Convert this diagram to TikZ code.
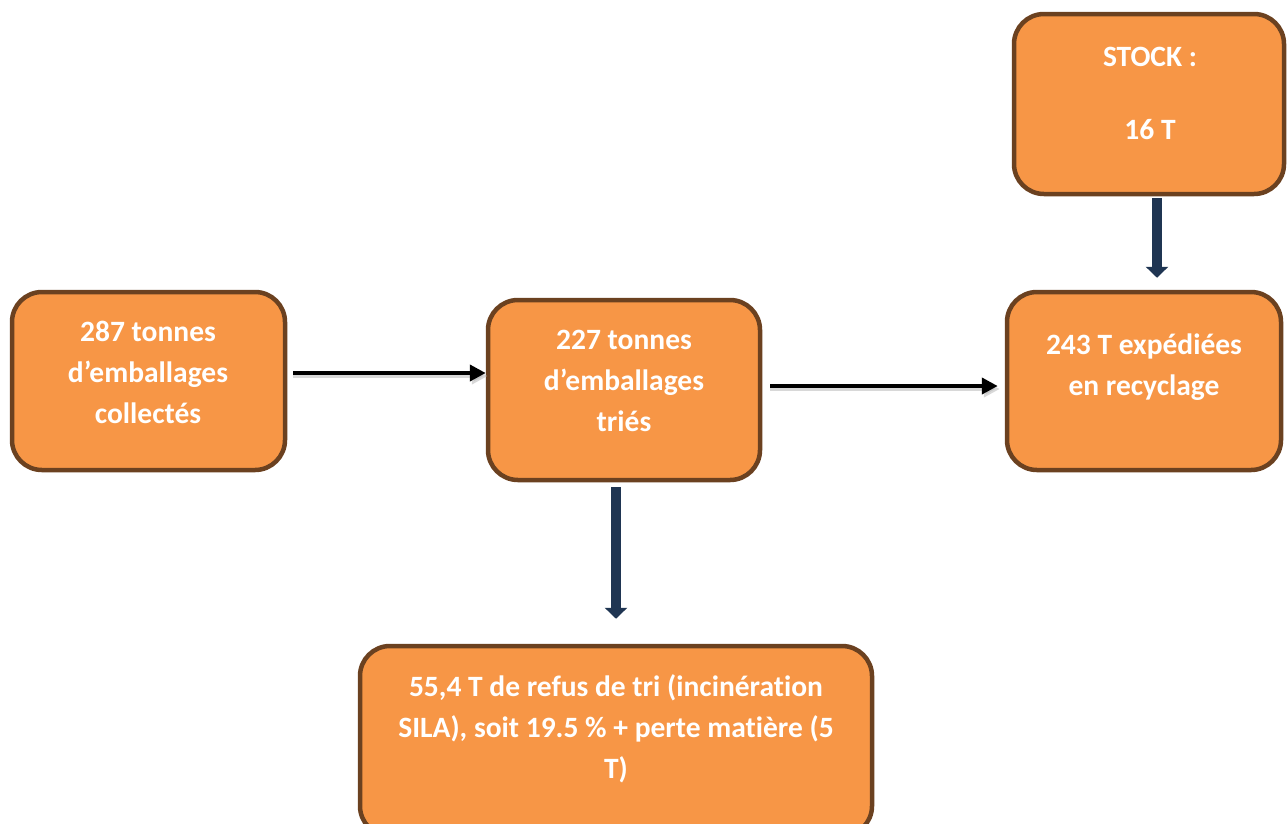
\documentclass[tikz,border=0pt]{standalone}
\usepackage{fontspec}
\setmainfont{Carlito}[Ligatures=NoCommon]
\usetikzlibrary{arrows.meta}
\definecolor{boxfill}{HTML}{F79646}
\definecolor{boxline}{HTML}{6B4120}
\definecolor{navy}{HTML}{1F3552}
\tikzset{
  box/.style={draw=boxline, line width=4.5pt, fill=boxfill, rounded corners=30pt, rectangle, inner sep=0pt},
  txt/.style={text=white, font=\fontsize{29.5}{41}\selectfont\bfseries, align=center, inner sep=0pt},
  blackarrow/.style={draw=black, line width=4.5pt, -{Triangle[length=16pt,width=16pt]}},
  shadowarrow/.style={draw=black!30, line width=4.5pt, opacity=0.5, -{Triangle[length=16pt,width=16pt]}},
  navyarrow/.style={draw=navy, line width=10pt, -{Triangle[length=11pt,width=22pt]}}
}
\begin{document}
\begin{tikzpicture}[x=1pt,y=-1pt]
\useasboundingbox (0,0) rectangle (1287,823);
\begin{scope}
\clip (0,0) rectangle (1287,823);
\node[box, minimum width=273pt, minimum height=178pt] (a) at (148.5,381) {};
\node[box, minimum width=272pt, minimum height=180pt] (b) at (624,390) {};
\node[box, minimum width=274pt, minimum height=178pt] (c) at (1144,381) {};
\node[box, minimum width=270pt, minimum height=180pt] (d) at (1149,104) {};
\node[box, minimum width=512pt, minimum height=190pt] (e) at (616,741) {};
\end{scope}
\node[txt] (ta) at (148,372) {287 tonnes\\d’emballages\\collectés};
\node[txt] (tb) at (624,381) {227 tonnes\\d’emballages\\triés};
\node[txt] (tc) at (1144,367) {243 T expédiées\\en recyclage};
\node[txt, font=\fontsize{29.5}{36.5}\selectfont\bfseries] (td) at (1150,93) {STOCK :\\[36.5pt]16 T};
\node[txt] (te) at (616,729) {55,4 T de refus de tri (incinération\\SILA), soit 19.5 \% + perte matière (5\\T)};
% arrows
\draw[shadowarrow] ([xshift=6pt,yshift=5pt]a.east) -- ([xshift=2pt,yshift=5pt]a.east -| b.west);
\draw[blackarrow] ([xshift=6pt,yshift=8pt]a.east) -- ([yshift=8pt]a.east -| b.west);
\draw[shadowarrow] ([xshift=8pt,yshift=1pt]b.east) -- ([xshift=-5pt,yshift=1pt]b.east -| c.west);
\draw[blackarrow] ([xshift=8pt,yshift=4pt]b.east) -- ([xshift=-7pt,yshift=4pt]b.east -| c.west);
\draw[navyarrow, shorten <=5pt, shorten >=25pt] ([xshift=-8pt]b.south) -- ([xshift=-8pt]b.south |- e.north);
\draw[navyarrow, shorten <=2pt, shorten >=12pt] ([xshift=8pt]d.south) -- ([xshift=8pt]d.south |- c.north);
\end{tikzpicture}
\end{document}
